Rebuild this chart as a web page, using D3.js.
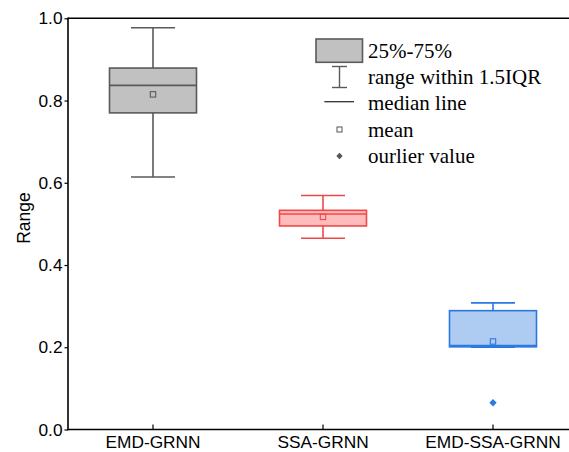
<!DOCTYPE html>
<html><head><meta charset="utf-8">
<script src="https://cdn.jsdelivr.net/npm/d3@7"></script>
<style>body{margin:0;background:#fff;overflow:hidden}svg{display:block}</style>
</head><body>
<svg id="c" width="569" height="452"></svg>
<script>
const categories = ["EMD-GRNN", "SSA-GRNN", "EMD-SSA-GRNN"];
const whiskerLow  = [0.614, 0.465, 0.200];
const q1          = [0.770, 0.495, 0.201];
const median      = [0.837, 0.524, 0.204];
const q3          = [0.879, 0.533, 0.289];
const whiskerHigh = [0.977, 0.569, 0.308];
const means       = [0.815, 0.517, 0.214];
const outliers    = [[], [], [0.065]];
const yTicks = [0.0, 0.2, 0.4, 0.6, 0.8, 1.0];
const legendLabels = ["25%-75%", "range within 1.5IQR", "median line", "mean", "ourlier value"];

const fills   = ["#c1c1c1", "#ffbcbc", "#aecbf2"];
const strokes = ["#5a5a5a", "#f04848", "#2a78e0"];

(function () {
const svg = d3.select("#c");
const pLeft = 68, pTop = 18.3, pBottom = 429.5;
const y = d3.scaleLinear().domain([0, 1]).range([pBottom, pTop]);
const x = d3.scaleBand().domain(categories).range([pLeft, 578]).padding(0);
const bw = 87, capW = 44;
const sans = "Liberation Sans, Arial, sans-serif";

svg.append("line").attr("x1", pLeft).attr("x2", 569).attr("y1", pTop).attr("y2", pTop)
  .attr("stroke", "#000").attr("stroke-width", 1.6);

const ya = svg.append("g").attr("transform", `translate(${pLeft},0)`)
  .call(d3.axisLeft(y).tickValues(yTicks).tickFormat(d3.format(".1f")).tickSize(3.5).tickPadding(2));
ya.select(".domain").remove();
ya.selectAll(".tick line").attr("stroke", "#000").attr("stroke-width", 1.2);
ya.selectAll("text").attr("font-family", sans).attr("font-size", 17.3).attr("fill", "#000");
svg.append("line").attr("x1", pLeft).attr("x2", pLeft).attr("y1", pTop - 0.8).attr("y2", pBottom + 0.8)
  .attr("stroke", "#000").attr("stroke-width", 1.6);

const xa = svg.append("g").attr("transform", `translate(0,${pBottom})`)
  .call(d3.axisBottom(x).tickSize(-5).tickPadding(6));
xa.select(".domain").remove();
xa.selectAll(".tick line").attr("stroke", "#000").attr("stroke-width", 1.2);
xa.selectAll("text").attr("font-family", sans).attr("font-size", 17.3).attr("fill", "#000");
svg.append("line").attr("x1", pLeft).attr("x2", 569).attr("y1", pBottom).attr("y2", pBottom)
  .attr("stroke", "#000").attr("stroke-width", 1.6);

svg.append("text").attr("transform", "translate(29.5,218) rotate(-90)")
  .attr("text-anchor", "middle").attr("font-family", sans)
  .attr("font-size", 17.5).attr("fill", "#000").text("Range");

categories.forEach((c, i) => {
  const cx = x(c) + x.bandwidth() / 2;
  const g = svg.append("g").attr("stroke", strokes[i]).attr("stroke-width", 1.6);
  g.append("line").attr("x1", cx).attr("x2", cx).attr("y1", y(whiskerHigh[i])).attr("y2", y(q3[i]));
  g.append("line").attr("x1", cx).attr("x2", cx).attr("y1", y(whiskerLow[i])).attr("y2", y(q1[i]));
  g.append("line").attr("x1", cx - capW / 2).attr("x2", cx + capW / 2).attr("y1", y(whiskerHigh[i])).attr("y2", y(whiskerHigh[i]));
  g.append("line").attr("x1", cx - capW / 2).attr("x2", cx + capW / 2).attr("y1", y(whiskerLow[i])).attr("y2", y(whiskerLow[i]));
  g.append("rect").attr("x", cx - bw / 2).attr("width", bw)
    .attr("y", y(q3[i])).attr("height", y(q1[i]) - y(q3[i])).attr("fill", fills[i]);
  g.append("line").attr("x1", cx - bw / 2).attr("x2", cx + bw / 2).attr("y1", y(median[i])).attr("y2", y(median[i]));
  g.append("rect").attr("x", cx - 2.7).attr("y", y(means[i]) - 2.7).attr("width", 5.4).attr("height", 5.4)
    .attr("fill", "none").attr("stroke-width", 1.1);
  outliers[i].forEach(v => {
    svg.append("path").attr("d", d3.symbol(d3.symbolDiamond2, 34)())
      .attr("transform", `translate(${cx},${y(v)})`).attr("fill", strokes[i]);
  });
});

const lg = svg.append("g");
const lx = 339.5, tx = 368;
const rowBase = [57.5, 84, 110.2, 136.5, 162.5];
lg.append("rect").attr("x", 316).attr("y", 39).attr("width", 46.5).attr("height", 23.3)
  .attr("fill", "#c1c1c1").attr("stroke", "#5a5a5a").attr("stroke-width", 1.6);
lg.append("line").attr("x1", lx).attr("x2", lx).attr("y1", 66.5).attr("y2", 87.5).attr("stroke", "#5a5a5a").attr("stroke-width", 1.4);
lg.append("line").attr("x1", lx - 7.5).attr("x2", lx + 7.5).attr("y1", 66.5).attr("y2", 66.5).attr("stroke", "#5a5a5a").attr("stroke-width", 1.4);
lg.append("line").attr("x1", lx - 7.5).attr("x2", lx + 7.5).attr("y1", 87.5).attr("y2", 87.5).attr("stroke", "#5a5a5a").attr("stroke-width", 1.4);
lg.append("line").attr("x1", 324.3).attr("x2", 354).attr("y1", 101.7).attr("y2", 101.7).attr("stroke", "#333").attr("stroke-width", 1.3);
lg.append("rect").attr("x", lx - 2.5).attr("y", 127).attr("width", 5).attr("height", 5)
  .attr("fill", "none").attr("stroke", "#555").attr("stroke-width", 1);
lg.append("path").attr("d", d3.symbol(d3.symbolDiamond2, 26)()).attr("transform", `translate(${lx},156)`).attr("fill", "#555");
legendLabels.forEach((t, i) => {
  lg.append("text").attr("x", tx).attr("y", rowBase[i])
    .attr("font-family", "Liberation Serif, Times New Roman, serif").attr("font-size", 21)
    .attr("fill", "#000").text(t);
});
})();
</script>
</body></html>
